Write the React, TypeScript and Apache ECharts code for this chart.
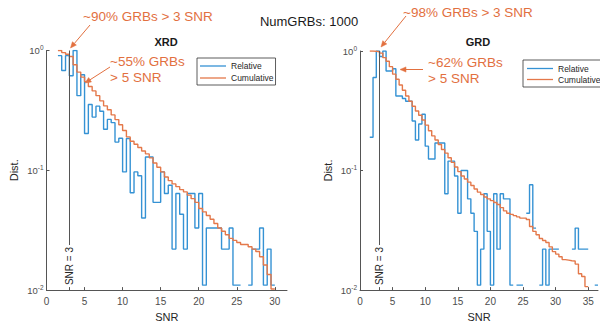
import React, { useEffect, useRef } from "react";
import * as echarts from "echarts";

// Histogram bins: first bin starts at SNR 1.5, width 0.5
const BIN_START = 1.5;
const BIN_WIDTH = 0.5;

// XRD relative distribution (count / max count), bins from 1.5 to 30
const XRD_REL = [
  0.906, 0.68, 0.906, 0.615, 1.0, 0.42, 0.627, 0.203, 0.354, 0.278,
  0.343, 0.311, 0.22, 0.266, 0.25, 0.172, 0.185, 0.097, 0.184, 0.065,
  0.097, 0.09, 0.04, 0.129, 0.129, 0.054, 0.054, 0.097, 0.064, 0.075,
  0.022, 0.064, 0.043, 0.022, 0.064, 0.064, 0.033, 0.064, 0.011, 0.033,
  0.033, 0.033, 0.033, 0.022, 0.022, 0.033, 0.011, 0.011, 0, 0,
  0.011, 0.022, 0.022, 0.033, 0.011, 0.022, 0.011,
];
// XRD cumulative fraction of GRBs above SNR
const XRD_CUM = [
  1.0, 0.96, 0.93, 0.89, 0.76, 0.66, 0.6, 0.55, 0.5, 0.46,
  0.42, 0.38, 0.345, 0.32, 0.29, 0.265, 0.24, 0.215, 0.19, 0.175,
  0.165, 0.155, 0.145, 0.137, 0.127, 0.115, 0.106, 0.097, 0.088, 0.082,
  0.077, 0.073, 0.069, 0.066, 0.062, 0.058, 0.054, 0.048, 0.045, 0.042,
  0.039, 0.036, 0.033, 0.031, 0.029, 0.027, 0.026, 0.025, 0.024, 0.024,
  0.023, 0.022, 0.021, 0.019, 0.0162, 0.0135, 0.0102,
];
// GRD relative distribution, bins from 1.5 to 36.5
const GRD_REL = [
  0.19, 0.6, 1.0, 0.9, 1.0, 0.68, 0.68, 0.71, 0.42, 0.42,
  0.4, 0.38, 0.38, 0.26, 0.18, 0.245, 0.296, 0.16, 0.125, 0.125,
  0.17, 0.17, 0.17, 0.064, 0.12, 0.12, 0.09, 0.044, 0.1, 0.1,
  0.058, 0.044, 0.031, 0.011, 0.022, 0.064, 0.031, 0.011, 0.064, 0.022,
  0.064, 0.058, 0.058, 0.011, 0, 0.011, 0.011, 0, 0.044, 0.076,
  0.033, 0, 0.011, 0.022, 0.011, 0.022, 0.022, 0.022, 0, 0,
  0, 0, 0.022, 0.033, 0.022, 0.022, 0.022, 0, 0, 0.011,
];
// GRD cumulative fraction
const GRD_CUM = [
  1.0, 0.995, 0.985, 0.96, 0.88, 0.82, 0.74, 0.64, 0.58, 0.52,
  0.47, 0.42, 0.38, 0.345, 0.315, 0.29, 0.265, 0.24, 0.215, 0.195,
  0.18, 0.165, 0.15, 0.14, 0.128, 0.117, 0.107, 0.098, 0.09, 0.085,
  0.08, 0.075, 0.07, 0.066, 0.063, 0.06, 0.058, 0.056, 0.054, 0.052,
  0.049, 0.046, 0.044, 0.043, 0.042, 0.041, 0.04, 0.04, 0.039, 0.034,
  0.031, 0.029, 0.027, 0.026, 0.025, 0.023, 0.021, 0.02, 0.019, 0.018,
  0.0178, 0.0176, 0.0175, 0.0165, 0.0137, 0.013, 0.0107,
];

const X_TICKS_MAX = [31.6, 36.5];
const Y_MIN = 0.01;
const Y_MAX = 1;
const SNR_CUT = 3;

const BLUE = "#3592d4";
const ORANGE = "#e4784a";
const NOTE = "#e2703f";
const AXIS = "#555555";
const FONT = "'Liberation Sans', Arial, sans-serif";

// thin horizontal line icon for the legend (bounds kept by the move-to points)
const LINE_ICON_10 = "path://M0,0M0,4.35H26V5.65H0ZM26,10";
const LINE_ICON_9 = "path://M0,0M0,3.85H26V5.15H0ZM26,9";

function stairs(values: number[]) {
  const pts: any[] = [];
  values.forEach((v, i) => {
    const x0 = BIN_START + i * BIN_WIDTH;
    if (v > 0) {
      pts.push([x0, v]);
      pts.push([x0 + BIN_WIDTH, v]);
    } else {
      pts.push([x0, null]);
    }
  });
  return pts;
}

function arrow(x1: number, y1: number, x2: number, y2: number) {
  const dx = x2 - x1;
  const dy = y2 - y1;
  const len = Math.sqrt(dx * dx + dy * dy);
  const ux = dx / len;
  const uy = dy / len;
  const L = 6;
  const W = 2.6;
  const bx = x2 - ux * L;
  const by = y2 - uy * L;
  return [
    {
      type: "line",
      shape: { x1, y1, x2: bx, y2: by },
      style: { stroke: NOTE, lineWidth: 1 },
      silent: true,
    },
    {
      type: "polygon",
      shape: {
        points: [
          [x2, y2],
          [bx - uy * W, by + ux * W],
          [bx + uy * W, by - ux * W],
        ],
      },
      style: { fill: NOTE, stroke: NOTE, lineWidth: 0.5 },
      silent: true,
    },
  ];
}

function noteText(text: string, x: number, y: number) {
  return {
    type: "text",
    x,
    y,
    silent: true,
    style: {
      text,
      fill: NOTE,
      font: `13.5px ${FONT}`,
      textAlign: "left",
      textVerticalAlign: "middle",
    },
  };
}

function plainText(text: string, x: number, y: number, font: string) {
  return {
    type: "text",
    x,
    y,
    silent: true,
    style: {
      text,
      fill: "#1a1a1a",
      font,
      textAlign: "center",
      textVerticalAlign: "middle",
    },
  };
}

export default function App() {
  const ref = useRef<HTMLDivElement>(null);

  useEffect(() => {
    if (!ref.current) return;
    const chart = echarts.init(ref.current, undefined, { renderer: "svg" });

    const grids = [
      { left: 46.5, top: 50.5, width: 240.5, height: 241.5 },
      { left: 360, top: 51, width: 238, height: 241.5 },
    ];

    const xAxis = [0, 1].map((g) => ({
      gridIndex: g,
      type: "value",
      min: 0,
      max: X_TICKS_MAX[g],
      interval: 5,
      name: "SNR",
      nameLocation: "middle",
      nameGap: 20,
      nameTextStyle: { fontSize: 11, color: "#262626", fontFamily: FONT },
      axisLine: { show: true, onZero: false, lineStyle: { color: AXIS, width: 1 } },
      axisTick: { show: true, inside: true, length: 3, lineStyle: { color: AXIS } },
      axisLabel: {
        fontSize: 10,
        color: "#4d4d4d",
        margin: 6,
        showMaxLabel: false,
        fontFamily: FONT,
      },
      splitLine: { show: false },
    }));

    const yAxis = [0, 1].map((g) => ({
      gridIndex: g,
      type: "log",
      logBase: 10,
      min: Y_MIN,
      max: Y_MAX,
      name: "Dist.",
      nameLocation: "middle",
      nameGap: 27,
      nameTextStyle: { fontSize: 11, color: "#262626", fontFamily: FONT },
      axisLine: { show: true, lineStyle: { color: AXIS, width: 1 } },
      axisTick: { show: true, inside: true, length: 3, lineStyle: { color: AXIS } },
      axisLabel: {
        margin: 3,
        formatter: (v: number) => `{b|10}{s|${Math.round(Math.log10(v))}}`,
        rich: {
          b: { fontSize: 9.5, color: "#4d4d4d", fontFamily: FONT },
          s: { fontSize: 6.5, color: "#4d4d4d", fontFamily: FONT, padding: [0, 0, 6, 0] },
        },
      },
      splitLine: { show: false },
    }));

    const markLine = {
      silent: true,
      symbol: ["none", "none"],
      animation: false,
      lineStyle: { color: AXIS, width: 1, type: "solid" },
      label: {
        show: true,
        formatter: "SNR = 3",
        position: "insideStartTop",
        distance: [3, 0],
        verticalAlign: "middle",
        color: "#262626",
        fontSize: 10,
        fontFamily: FONT,
        backgroundColor: "#ffffff",
        padding: [1, 2],
      },
      data: [{ xAxis: SNR_CUT }],
    };

    const mkSeries = (g: number, rel: number[], cum: number[]) => [
      {
        type: "line",
        name: "Relative",
        xAxisIndex: g,
        yAxisIndex: g,
        data: stairs(rel),
        symbol: "none",
        showSymbol: false,
        connectNulls: false,
        lineStyle: { color: BLUE, width: 1.4 },
        itemStyle: { color: BLUE },
        z: 2,
        markLine,
      },
      {
        type: "line",
        name: "Cumulative",
        xAxisIndex: g,
        yAxisIndex: g,
        data: stairs(cum),
        symbol: "none",
        showSymbol: false,
        lineStyle: { color: ORANGE, width: 1.4 },
        itemStyle: { color: ORANGE },
        z: 3,
      },
    ];

    const legendBase = {
      orient: "vertical",
      data: ["Relative", "Cumulative"],
      borderColor: "#333333",
      borderWidth: 0.8,
      backgroundColor: "#ffffff",
      itemWidth: 26,
      itemGap: 2,
      selectedMode: false,
      textStyle: { fontSize: 8.5, color: "#262626", fontFamily: FONT },
    };

    chart.setOption({
      animation: false,
      textStyle: { fontFamily: FONT },
      grid: grids.map((g) => ({ ...g, containLabel: false })),
      xAxis,
      yAxis,
      legend: [
        {
          ...legendBase,
          left: 197,
          top: 58,
          itemHeight: 10,
          icon: LINE_ICON_10,
          padding: [3, 2, 2, 3],
        },
        {
          ...legendBase,
          left: 523,
          top: 60,
          itemHeight: 9,
          icon: LINE_ICON_9,
          padding: [4, 2, 3, 4],
        },
      ],
      series: [...mkSeries(0, XRD_REL, XRD_CUM), ...mkSeries(1, GRD_REL, GRD_CUM)],
      graphic: [
        plainText("NumGRBs: 1000", 309, 21.5, `13px ${FONT}`),
        plainText("XRD", 166, 42, `bold 11px ${FONT}`),
        plainText("GRD", 478, 42, `bold 11px ${FONT}`),
        noteText("~90% GRBs > 3 SNR", 83, 16),
        noteText("~55% GRBs", 110, 61),
        noteText("> 5 SNR", 110, 77),
        noteText("~98% GRBs > 3 SNR", 403, 12.5),
        noteText("~62% GRBs", 428, 62),
        noteText("> 5 SNR", 428, 78),
        ...arrow(90, 25, 70.5, 48),
        ...arrow(110, 67, 85, 83),
        ...arrow(406, 16, 381, 47),
        ...arrow(423, 69.5, 400, 69.5),
      ],
    });

    return () => chart.dispose();
  }, []);

  return (
    <div
      ref={ref}
      style={{ position: "fixed", left: 0, top: 0, width: 600, height: 327, background: "#fff" }}
    />
  );
}
